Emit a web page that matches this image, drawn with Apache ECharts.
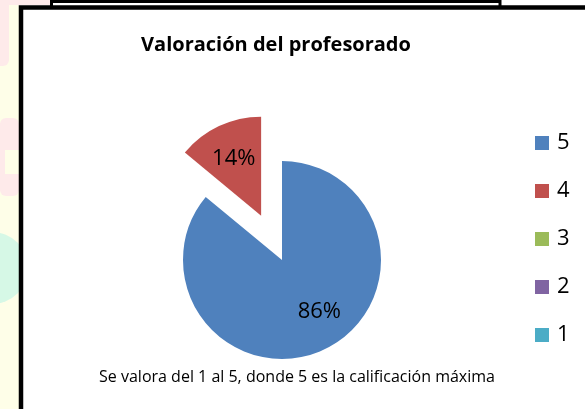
<!DOCTYPE html>
<html>
<head>
<meta charset="utf-8">
<script src="https://cdn.jsdelivr.net/npm/echarts@6/dist/echarts.min.js"></script>
<style>
  html, body { margin: 0; padding: 0; background: #fff; }
  #main { width: 585px; height: 409px; }
</style>
</head>
<body>
<div id="main"></div>
<script>
// datos
var categorias = ['5', '4', '3', '2', '1'];
var valores = [86, 14, 0, 0, 0];
var colores = ['#4F81BD', '#C0504D', '#9BBB59', '#8064A2', '#4BACC6'];
var titulo = 'Valoración del profesorado';
var nota = 'Se valora del 1 al 5, donde 5 es la calificación máxima';

var fuente = '"Open Sans", "Noto Sans", sans-serif';

var myChart = echarts.init(document.getElementById('main'));

var datos = categorias.map(function (c, i) {
    var item = { name: c, value: valores[i], itemStyle: { color: colores[i] } };
    if (valores[i] === 0) item.label = { show: false };
    if (c === '4') item.selected = true; // porcion separada
    return item;
});

// ajuste fino de las etiquetas respecto a la posicion 'inside'
var desplaz = { 0: [15, 4], 1: [-5, -9] };

var option = {
    backgroundColor: '#fff',
    animation: false,
    legend: {
        orient: 'vertical',
        left: 535,
        top: 132,
        padding: 0,
        itemWidth: 14,
        itemHeight: 14,
        itemGap: 26,
        icon: 'rect',
        selectedMode: false,
        data: categorias,
        textStyle: { fontFamily: fuente, fontSize: 22, lineHeight: 22, color: '#000', padding: [0, 0, 0, 3] }
    },
    graphic: [
        // fondo de la pagina a la izquierda
        { type: 'rect', shape: { x: 0, y: 0, width: 19, height: 409 }, style: { fill: '#fefee8' }, z: -10 },
        { type: 'rect', shape: { x: 0, y: 0, width: 9, height: 66, r: [0, 0, 6, 0] }, style: { fill: '#feeaea' }, z: -9 },
        { type: 'rect', shape: { x: 0, y: 0, width: 50, height: 5 }, style: { fill: '#feeaea' }, z: -9 },
        { type: 'rect', shape: { x: 0, y: 118, width: 19, height: 78, r: 6 }, style: { fill: '#feeaea' }, z: -9 },
        { type: 'rect', shape: { x: 5, y: 150, width: 14, height: 24 }, style: { fill: '#fefee8' }, z: -8 },
        { type: 'circle', shape: { cx: -8, cy: 268, r: 36 }, style: { fill: '#d6f8e6' }, z: -9 },
        // marcos
        { type: 'line', shape: { x1: 51.5, y1: 1.5, x2: 500, y2: 1.5 }, style: { stroke: '#000', lineWidth: 3 } },
        { type: 'line', shape: { x1: 51.5, y1: 0, x2: 51.5, y2: 7 }, style: { stroke: '#000', lineWidth: 3 } },
        { type: 'line', shape: { x1: 500, y1: 0, x2: 500, y2: 7 }, style: { stroke: '#000', lineWidth: 3 } },
        { type: 'rect', shape: { x: 21, y: 7.5, width: 600, height: 450 }, style: { stroke: '#000', lineWidth: 4.5, fill: '#fff' }, z: -5 },
        // textos
        { type: 'text', x: 276, y: 45, style: { text: titulo, fontFamily: fuente, fontSize: 20, fontWeight: 'bold', fill: '#000', align: 'center', verticalAlign: 'middle' } },
        { type: 'text', x: 297, y: 377, style: { text: nota, fontFamily: fuente, fontSize: 16, fill: '#000', align: 'center', verticalAlign: 'middle' } }
    ],
    series: [
        {
            name: titulo,
            type: 'pie',
            center: [282, 260],
            radius: 99,
            startAngle: 90,
            clockwise: true,
            selectedMode: 'single',
            selectedOffset: 49,
            avoidLabelOverlap: false,
            label: {
                position: 'inside',
                formatter: '{d}%',
                fontFamily: fuente,
                fontSize: 22,
                color: '#000'
            },
            labelLine: { show: false },
            labelLayout: function (params) {
                var d = desplaz[params.dataIndex] || [0, 0];
                return { dx: d[0], dy: d[1] };
            },
            emphasis: { scale: false, label: { show: true } },
            data: datos
        }
    ]
};
myChart.setOption(option);
</script>
</body>
</html>
